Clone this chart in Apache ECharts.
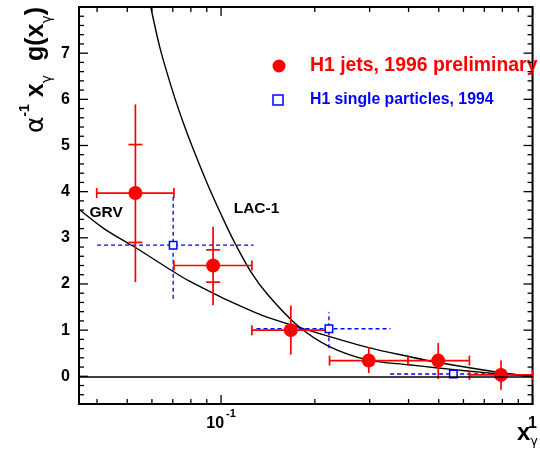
<!DOCTYPE html>
<html><head><meta charset="utf-8">
<script src="https://cdn.jsdelivr.net/npm/echarts@6/dist/echarts.min.js"></script>
<style>html,body{margin:0;padding:0;background:#fff}#c{width:540px;height:452px}</style>
</head><body><div id="c"></div>
<script>
// ---- H1 jets, 1996 preliminary ----
const jetX      = [0.0531, 0.0943, 0.1675, 0.298, 0.498, 0.792];
const jetY      = [3.97, 2.40, 1.00, 0.34, 0.34, 0.03];
const jetXLo    = [0.0399, 0.0706, 0.1256, 0.223, 0.398, 0.627];
const jetXHi    = [0.0706, 0.1256, 0.222, 0.398, 0.627, 1.0];
const jetYLo    = [2.04, 1.54, 0.47, 0.07, -0.06, -0.29];
const jetYHi    = [5.89, 3.24, 1.53, 0.63, 0.72, 0.34];
const jetStatLo = [2.90, 2.04, null, null, null, null];
const jetStatHi = [5.02, 2.74, null, null, null, null];
// ---- H1 single particles, 1994 ----
const spX   = [0.0702, 0.222, 0.557];
const spY   = [2.84, 1.03, 0.05];
const spXLo = [0.040, 0.130, 0.349];
const spXHi = [0.1272, 0.35, 0.866];
const spYLo = [1.68, 0.61, null];
const spYHi = [3.91, 1.39, null];
// ---- GRV curve ----
const grvX = [0.035, 0.0421, 0.0503, 0.0531, 0.0702, 0.0792, 0.0943, 0.101, 0.129, 0.142, 0.176, 0.298, 0.40, 0.498, 0.792, 1.0];
const grvY = [3.62, 3.20, 2.88, 2.79, 2.27, 2.06, 1.80, 1.70, 1.38, 1.27, 1.07, 0.62, 0.43, 0.30, 0.08, 0.0];
// ---- LAC-1 curve ----
const lacX = [0.0595, 0.0637, 0.0702, 0.0754, 0.0811, 0.0916, 0.1047, 0.1113, 0.1245, 0.142, 0.176, 0.222, 0.298, 0.40, 0.498, 0.63, 0.792, 1.0];
const lacY = [8.0, 7.11, 6.14, 5.52, 4.95, 4.08, 3.22, 2.86, 2.27, 1.75, 1.10, 0.65, 0.35, 0.25, 0.18, 0.11, 0.05, 0.0];
// ---- ticks / labels ----
const xLabelTicks = [0.1, 1];
const xMinorTicks = [0.04, 0.05, 0.06, 0.07, 0.08, 0.09, 0.2, 0.3, 0.4, 0.5, 0.6, 0.7, 0.8, 0.9];
const yLabelTicks = [0, 1, 2, 3, 4, 5, 6, 7];
const yMinorTicks = [-0.4, -0.2, 0.2, 0.4, 0.6, 0.8, 1.2, 1.4, 1.6, 1.8, 2.2, 2.4, 2.6, 2.8, 3.2, 3.4, 3.6, 3.8,
                     4.2, 4.4, 4.6, 4.8, 5.2, 5.4, 5.6, 5.8, 6.2, 6.4, 6.6, 6.8, 7.2, 7.4, 7.6, 7.8];

const FONT = 'Liberation Sans, Arial, Helvetica, sans-serif';
const RED = '#ff0000', BLUE = '#0000ff';

const chart = echarts.init(document.getElementById('c'), null, {renderer: 'canvas'});

function xTickRender(len) {
  return function (params, api) {
    const cs = params.coordSys;
    const px = api.coord([api.value(0), 0])[0];
    const st = {stroke: '#000', lineWidth: 1.3};
    return {type: 'group', children: [
      {type: 'line', shape: {x1: px, y1: cs.y + cs.height, x2: px, y2: cs.y + cs.height - len}, style: st},
      {type: 'line', shape: {x1: px, y1: cs.y, x2: px, y2: cs.y + len}, style: st}
    ]};
  };
}
function yTickRender(len) {
  return function (params, api) {
    const cs = params.coordSys;
    const py = api.coord([0.1, api.value(1)])[1];
    const st = {stroke: '#000', lineWidth: 1.3};
    return {type: 'group', children: [
      {type: 'line', shape: {x1: cs.x, y1: py, x2: cs.x + len, y2: py}, style: st},
      {type: 'line', shape: {x1: cs.x + cs.width, y1: py, x2: cs.x + cs.width - len, y2: py}, style: st}
    ]};
  };
}

function jetRender(params, api) {
  const x = api.value(0), y = api.value(1);
  const c = api.coord([x, y]);
  const xl = api.coord([api.value(2), y])[0], xh = api.coord([api.value(3), y])[0];
  const yl = api.coord([x, api.value(4)])[1], yh = api.coord([x, api.value(5)])[1];
  const st = {stroke: RED, lineWidth: 1.7};
  const ch = [
    {type: 'line', shape: {x1: xl, y1: c[1], x2: xh, y2: c[1]}, style: st},
    {type: 'line', shape: {x1: xl, y1: c[1] - 5, x2: xl, y2: c[1] + 5}, style: st},
    {type: 'line', shape: {x1: xh, y1: c[1] - 5, x2: xh, y2: c[1] + 5}, style: st},
    {type: 'line', shape: {x1: c[0], y1: yl, x2: c[0], y2: yh}, style: st}
  ];
  [api.value(6), api.value(7)].forEach(function (s) {
    if (s != null && !isNaN(s)) {
      const ps = api.coord([x, s])[1];
      ch.push({type: 'line', shape: {x1: c[0] - 7, y1: ps, x2: c[0] + 7, y2: ps}, style: st});
    }
  });
  return {type: 'group', children: ch};
}
function spRender(params, api) {
  const x = api.value(0), y = api.value(1);
  const c = api.coord([x, y]);
  const xl = api.coord([api.value(2), y])[0], xh = api.coord([api.value(3), y])[0];
  const st = {stroke: BLUE, lineWidth: 1.3, lineDash: [4, 3]};
  const ch = [{type: 'line', shape: {x1: xl, y1: c[1], x2: xh, y2: c[1]}, style: st}];
  const lo = api.value(4), hi = api.value(5);
  if (!isNaN(lo) && !isNaN(hi)) {
    ch.push({type: 'line', shape: {x1: c[0], y1: api.coord([x, lo])[1], x2: c[0], y2: api.coord([x, hi])[1]}, style: st});
  }
  return {type: 'group', children: ch};
}

const jetData = jetX.map((x, i) => [x, jetY[i], jetXLo[i], jetXHi[i], jetYLo[i], jetYHi[i], jetStatLo[i], jetStatHi[i]]);
const spData = spX.map((x, i) => [x, spY[i], spXLo[i], spXHi[i], spYLo[i], spYHi[i]]);

const option = {
  animation: false,
  backgroundColor: '#fff',
  grid: {left: 79, right: 2, top: 7, bottom: 48, show: true, borderColor: '#000', borderWidth: 2, backgroundColor: 'transparent'},
  xAxis: {
    type: 'log', logBase: 10, min: 0.035, max: 1,
    axisLine: {show: true, onZero: false, lineStyle: {color: '#000', width: 2}},
    axisTick: {show: false}, splitLine: {show: false}, minorTick: {show: false},
    axisLabel: {
      customValues: xLabelTicks, margin: 4, color: '#000',
      formatter: function (v) { return v < 0.5 ? '{b|10}{s|-1}' : '{b|1}'; },
      rich: {
        b: {fontSize: 16, fontWeight: 'bold', fontFamily: FONT, lineHeight: 24, verticalAlign: 'bottom', color: '#000'},
        s: {fontSize: 11, fontWeight: 'bold', fontFamily: FONT, lineHeight: 11, verticalAlign: 'top', color: '#000', padding: [0, 0, 0, 2]}
      }
    }
  },
  yAxis: {
    type: 'value', min: -0.6, max: 8,
    axisLine: {show: true, onZero: false, lineStyle: {color: '#000', width: 2}},
    axisTick: {show: false}, splitLine: {show: false},
    axisLabel: {customValues: yLabelTicks, margin: 9, color: '#000', fontSize: 16, fontWeight: 'bold', fontFamily: FONT}
  },
  graphic: [
    {type: 'circle', shape: {cx: 279, cy: 66, r: 6.5}, style: {fill: RED}},
    {type: 'text', x: 310, y: 66, style: {text: 'H1 jets, 1996 preliminary', fill: RED, font: 'bold 19.4px ' + FONT, verticalAlign: 'middle'}},
    {type: 'rect', shape: {x: 273, y: 95, width: 10, height: 10}, style: {fill: '#fff', stroke: BLUE, lineWidth: 1.5}},
    {type: 'text', x: 310, y: 100, style: {text: 'H1 single particles, 1994', fill: BLUE, font: 'bold 15.8px ' + FONT, verticalAlign: 'middle'}},
    {type: 'text', x: 36, y: 70, rotation: Math.PI / 2, style: {
      text: '{a|α}{s|-1}{b| x}{u|γ}{b|  g(x}{u|γ}{b|)}', align: 'center', verticalAlign: 'middle',
      rich: {
        a: {fontSize: 25, fontFamily: 'DejaVu Sans, sans-serif', lineHeight: 36, verticalAlign: 'middle', fill: '#000'},
        b: {fontSize: 25, fontWeight: 'bold', fontFamily: FONT, lineHeight: 36, verticalAlign: 'middle', fill: '#000'},
        s: {fontSize: 14, fontWeight: 'bold', fontFamily: FONT, lineHeight: 13, verticalAlign: 'top', fill: '#000'},
        u: {fontSize: 14, fontFamily: 'DejaVu Sans, sans-serif', lineHeight: 13, verticalAlign: 'bottom', fill: '#000'}
      }}},
    {type: 'text', x: 538, y: 433, style: {
      text: '{b|x}{u|γ}', align: 'right', verticalAlign: 'middle',
      rich: {
        b: {fontSize: 24, fontWeight: 'bold', fontFamily: FONT, lineHeight: 30, verticalAlign: 'middle', fill: '#000'},
        u: {fontSize: 13, fontFamily: 'DejaVu Sans, sans-serif', lineHeight: 13, verticalAlign: 'bottom', fill: '#000'}
      }}}
  ],
  series: [
    {type: 'line', name: 'GRV', data: grvX.map((x, i) => [x, grvY[i]]), showSymbol: false, smooth: 0.3,
     lineStyle: {color: '#000', width: 1.4}, z: 1, silent: true,
     markLine: {silent: true, symbol: ['none', 'none'], label: {show: false}, lineStyle: {color: '#000', width: 1.5, type: 'solid'}, data: [{yAxis: 0}]},
     markPoint: {symbolSize: 0, data: [{coord: [0.0428, 3.55], label: {show: true, formatter: 'GRV', color: '#000', fontSize: 15.5, fontWeight: 'bold', fontFamily: FONT}}]}},
    {type: 'line', name: 'LAC-1', data: lacX.map((x, i) => [x, lacY[i]]), showSymbol: false, smooth: 0.3,
     lineStyle: {color: '#000', width: 1.4}, z: 1, silent: true,
     markPoint: {symbolSize: 0, data: [{coord: [0.130, 3.63], label: {show: true, formatter: 'LAC-1', color: '#000', fontSize: 15.5, fontWeight: 'bold', fontFamily: FONT}}]}},
    {type: 'custom', name: 'xMinor', data: xMinorTicks.map(v => [v, 0]), renderItem: xTickRender(5), silent: true, z: 5},
    {type: 'custom', name: 'xMajor', data: xLabelTicks.map(v => [v, 0]), renderItem: xTickRender(9), silent: true, z: 5},
    {type: 'custom', name: 'yMinor', data: yMinorTicks.map(v => [0.1, v]), renderItem: yTickRender(5), silent: true, z: 5},
    {type: 'custom', name: 'yMajor', data: yLabelTicks.map(v => [0.1, v]), renderItem: yTickRender(9), silent: true, z: 5},
    {type: 'custom', name: 'H1 single particles, 1994 errors', data: spData, renderItem: spRender, silent: true, z: 2},
    {type: 'custom', name: 'H1 jets, 1996 preliminary errors', data: jetData, renderItem: jetRender, silent: true, z: 3},
    {type: 'scatter', name: 'H1 single particles, 1994', data: spX.map((x, i) => [x, spY[i]]), symbol: 'rect', symbolSize: 7.5,
     itemStyle: {color: '#fff', borderColor: BLUE, borderWidth: 1.5, opacity: 1}, z: 4, silent: true},
    {type: 'scatter', name: 'H1 jets, 1996 preliminary', data: jetX.map((x, i) => [x, jetY[i]]), symbolSize: 14,
     itemStyle: {color: RED, opacity: 1}, z: 4, silent: true}
  ]
};
chart.setOption(option);
</script></body></html>
